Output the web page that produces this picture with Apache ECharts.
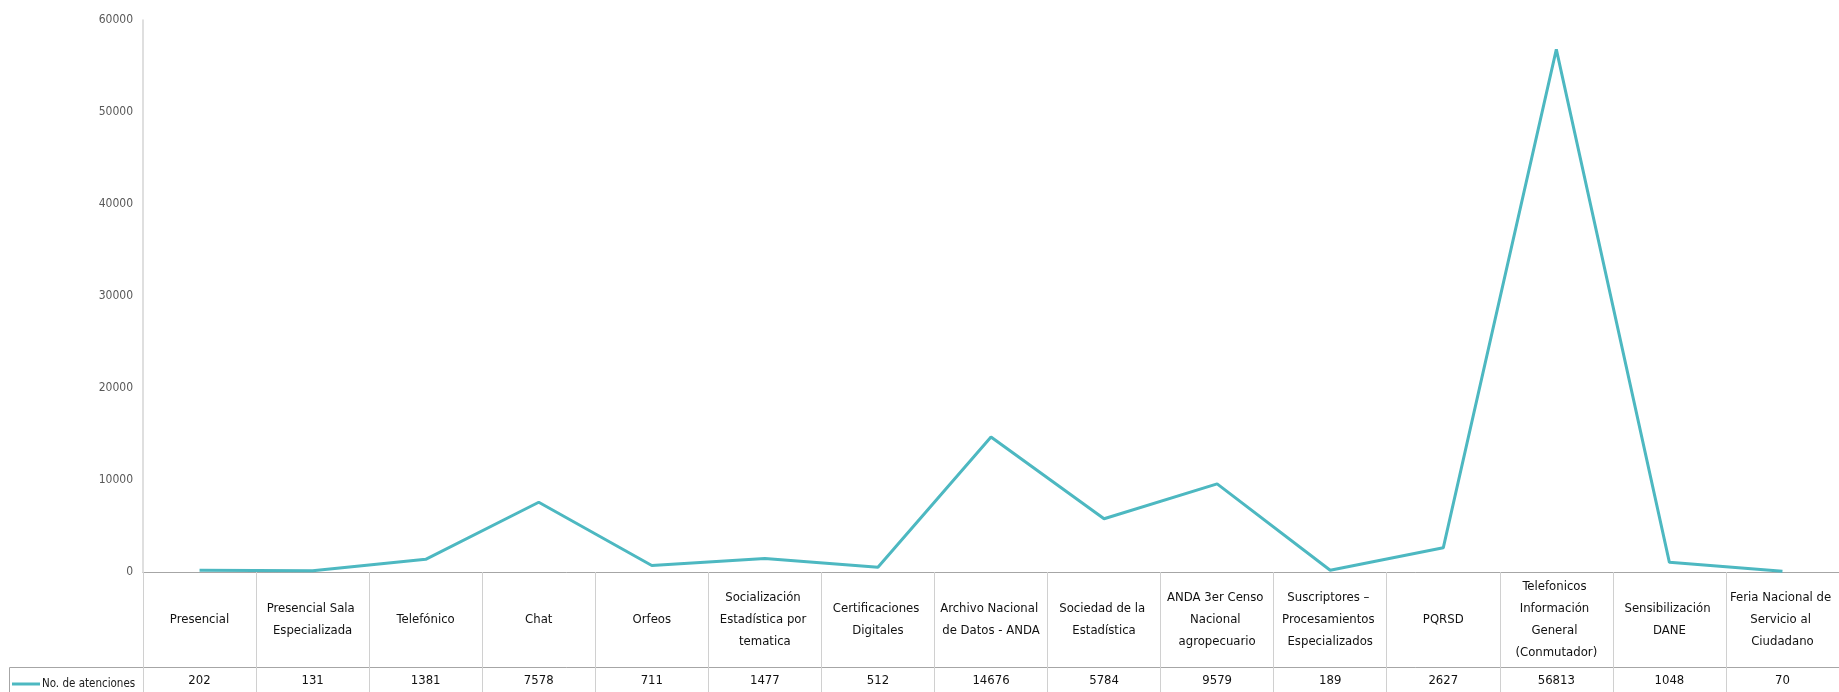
<!DOCTYPE html>
<html>
<head>
<meta charset="utf-8">
<script src="https://cdn.jsdelivr.net/npm/echarts@6/dist/echarts.min.js"></script>
<style>
  html, body { margin: 0; padding: 0; background: #ffffff; }
  #chart { width: 1839px; height: 692px; }
</style>
</head>
<body>
<div id="chart"></div>
<script>
// Canales de atención y número de atenciones por canal
const categories = [
  'Presencial',
  'Presencial Sala Especializada',
  'Telefónico',
  'Chat',
  'Orfeos',
  'Socialización Estadística por tematica',
  'Certificaciones Digitales',
  'Archivo Nacional de Datos - ANDA',
  'Sociedad de la Estadística',
  'ANDA 3er Censo Nacional agropecuario',
  'Suscriptores – Procesamientos Especializados',
  'PQRSD',
  'Telefonicos Información General (Conmutador)',
  'Sensibilización DANE',
  'Feria Nacional de Servicio al Ciudadano'
];
const seriesName = 'No. de atenciones';
const atenciones = [202, 131, 1381, 7578, 711, 1477, 512, 14676, 5784, 9579, 189, 2627, 56813, 1048, 70];
const yTicks = { min: 0, max: 60000, interval: 10000 };

const FONT = '"DejaVu Sans Condensed", "Liberation Sans Narrow", "Liberation Sans", sans-serif';
const LINE_COLOR = '#4db8c1';
const GRID_LEFT = 143, GRID_TOP = 20, AXIS_Y = 572, ROW_Y = 667;

const chart = echarts.init(document.getElementById('chart'), null, { renderer: 'canvas' });

chart.setOption({
  animation: false,
  backgroundColor: '#ffffff',
  grid: {
    left: GRID_LEFT,
    top: GRID_TOP,
    width: 1701,
    height: AXIS_Y - GRID_TOP,
    containLabel: false
  },
  legend: {
    show: true,
    left: 7,
    top: ROW_Y + 6,
    itemWidth: 28,
    itemHeight: 3,
    itemGap: 2,
    icon: 'rect',
    textStyle: { fontFamily: FONT, fontSize: 11.5, color: '#1a1a1a', padding: [0, 0, 0, -3] },
    data: [seriesName]
  },
  xAxis: [
    {
      type: 'category',
      data: categories,
      boundaryGap: true,
      position: 'bottom',
      axisLine: { show: true, lineStyle: { color: '#a6a6a6', width: 1 } },
      axisTick: { show: true, length: 125, alignWithLabel: false, lineStyle: { color: '#d0d0d0', width: 1 } },
      axisLabel: {
        interval: 0,
        margin: 48,
        verticalAlign: 'middle',
        align: 'center',
        width: 106,
        overflow: 'break',
        lineHeight: 22,
        fontFamily: FONT,
        fontSize: 13,
        color: '#111111'
      },
      splitLine: { show: false }
    },
    {
      type: 'category',
      data: atenciones.map(String),
      boundaryGap: true,
      position: 'bottom',
      offset: ROW_Y - AXIS_Y,
      axisLine: { show: true, lineStyle: { color: '#a6a6a6', width: 1 } },
      axisTick: { show: false },
      axisLabel: {
        interval: 0,
        margin: 14,
        verticalAlign: 'middle',
        fontFamily: FONT,
        fontSize: 13,
        color: '#111111'
      },
      splitLine: { show: false }
    }
  ],
  yAxis: {
    type: 'value',
    min: yTicks.min,
    max: yTicks.max,
    interval: yTicks.interval,
    axisLine: { show: true, lineStyle: { color: '#d4d4d4', width: 1.5 } },
    axisTick: { show: false },
    splitLine: { show: false },
    axisLabel: {
      margin: 10,
      formatter: (v) => String(v),
      fontFamily: FONT,
      fontSize: 12,
      color: '#595959'
    }
  },
  series: [
    {
      name: seriesName,
      type: 'line',
      xAxisIndex: 0,
      data: atenciones,
      showSymbol: false,
      symbol: 'none',
      smooth: false,
      lineStyle: { color: LINE_COLOR, width: 3 },
      itemStyle: { color: LINE_COLOR }
    }
  ],
  graphic: [
    {
      type: 'polyline',
      silent: true,
      shape: { points: [[9.5, 692], [9.5, ROW_Y + 0.5], [GRID_LEFT, ROW_Y + 0.5]] },
      style: { stroke: '#a6a6a6', lineWidth: 1, fill: null }
    }
  ]
});
</script>
</body>
</html>
